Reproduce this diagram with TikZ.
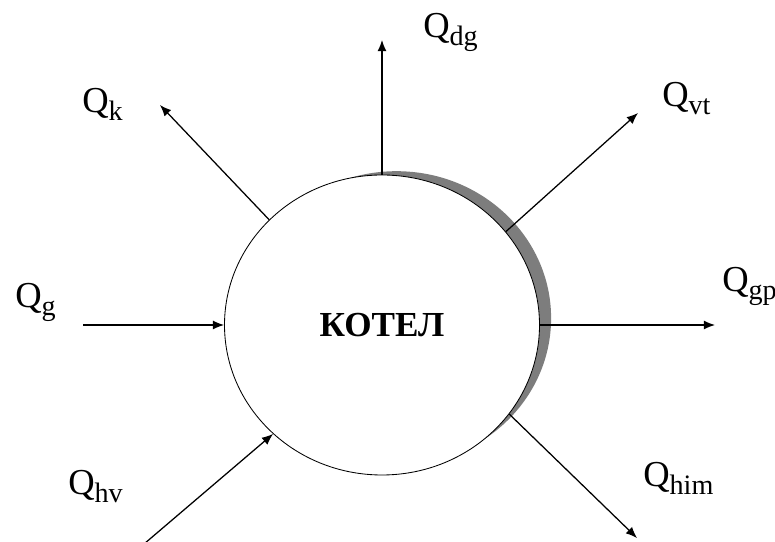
\documentclass[tikz,border=0pt]{standalone}
\usepackage{fontspec}
\setmainfont{Liberation Serif}
\usetikzlibrary{arrows.meta,shapes.geometric}
\newcommand{\flow}[1]{Q\raisebox{-5pt}{\fontsize{20}{20}\selectfont #1}}

\begin{document}
\begin{tikzpicture}[
  flowline/.style={line width=0.9pt, -{Latex[length=8pt,width=6.5pt]}},
  flowlabel/.style={anchor=base west, inner sep=0pt, font=\fontsize{26}{30}\selectfont}]
  \definecolor{shadowgray}{RGB}{125,125,125}
  \useasboundingbox (0,0) rectangle (19.375,13.55);

  \fill[shadowgray] (9.9125,5.595) ellipse (3.865 and 3.675);
  \node[ellipse, draw, fill=white, line width=0.6pt, minimum width=7.875cm,
        minimum height=7.5cm, font=\bfseries\fontsize{25}{30}\selectfont]
        (boiler) at (9.55,5.425) {КОТЕЛ};

  \coordinate (dgend) at (9.55,12.55);
  \coordinate (kend) at (4.0,10.925);
  \coordinate (vtend) at (15.95,10.725);
  \coordinate (gstart) at (2.075,5.425);
  \coordinate (gpend) at (17.875,5.425);
  \coordinate (himend) at (15.925,0.1);
  \coordinate (hvstart) at (3.6,-0.05);

  \draw[flowline] (boiler.north) -- (dgend);
  \draw[flowline] (boiler.137) -- (kend);
  \draw[flowline] (boiler.37) -- (vtend);
  \draw[flowline] (gstart) -- (boiler.west);
  \draw[flowline] (boiler.east) -- (gpend);
  \draw[flowline] (boiler.-35) -- (himend);
  \draw[flowline] (hvstart) -- (boiler.-135);

  \node[flowlabel] (lk) at (2.05,10.725) {\flow{k}};
  \node[flowlabel] (ldg) at (10.575,12.6) {\flow{dg}};
  \node[flowlabel] (lvt) at (16.55,10.875) {\flow{vt}};
  \node[flowlabel] (lg) at (0.375,5.85) {\flow{g}};
  \node[flowlabel] (lgp) at (18.05,6.25) {\flow{gp}};
  \node[flowlabel] (lhim) at (16.075,1.375) {\flow{him}};
  \node[flowlabel] (lhv) at (1.7,1.175) {\flow{hv}};

\end{tikzpicture}
\end{document}
